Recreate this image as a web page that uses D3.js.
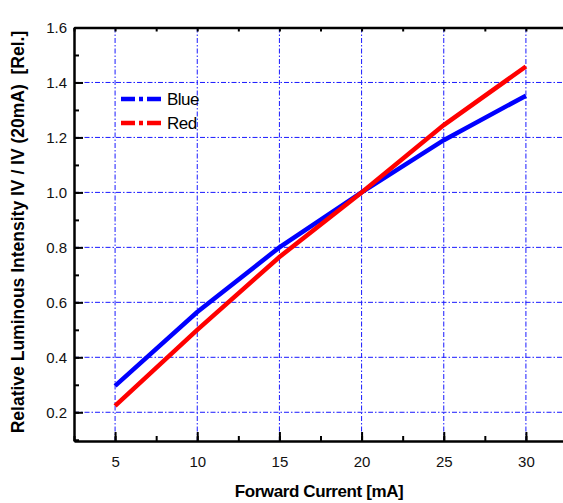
<!DOCTYPE html>
<meta charset="utf-8" />
<style>
  body { margin: 0; background: #fff; }
  text { font-family: 'Liberation Sans', Arial, sans-serif; }
  .grid line { stroke: #1a1aff; stroke-width: 1; stroke-dasharray: 5 2 1.5 2; }
</style>
<svg width="563" height="503"></svg>
<script src="https://d3js.org/d3.v7.min.js"></script>
<script>
  var current = [5, 10, 15, 20, 25, 30];
  var blue = [0.296, 0.565, 0.80, 1.0, 1.19, 1.352];
  var red = [0.223, 0.50, 0.765, 1.0, 1.245, 1.458];
  var xTicks = [5, 10, 15, 20, 25, 30];
  var yTicks = [0.2, 0.4, 0.6, 0.8, 1.0, 1.2, 1.4, 1.6];

  var svg = d3.select('svg'),
    plotLeft = 74, plotRight = 567, plotTop = 27.5, plotBottom = 441;

  var x = d3.scaleLinear().domain([2.5, 32.5]).range([plotLeft, plotRight]),
    y = d3.scaleLinear().domain([0.0955, 1.6]).range([plotBottom, plotTop]);

  // grid
  var grid = svg.append('g').attr('class', 'grid');
  grid.selectAll('.gx')
    .data(xTicks)
    .enter()
    .append('line')
    .attr('x1', d => x(d)).attr('x2', d => x(d))
    .attr('y1', plotTop).attr('y2', plotBottom);
  grid.selectAll('.gy')
    .data(yTicks.slice(0, -1))
    .enter()
    .append('line')
    .attr('y1', d => y(d)).attr('y2', d => y(d))
    .attr('x1', plotLeft).attr('x2', plotRight);

  // axes (ticks inside)
  var minorX = d3.range(2.5, 33, 2.5);
  var minorY = d3.range(0.1, 1.65, 0.1);
  svg.append('g')
    .attr('transform', 'translate(0,' + plotBottom + ')')
    .call(d3.axisBottom(x).tickValues(minorX).tickSize(-5).tickFormat('').tickSizeOuter(0))
    .call(g => g.selectAll('line').attr('stroke-width', 2));
  svg.append('g')
    .attr('transform', 'translate(0,' + plotBottom + ')')
    .call(d3.axisBottom(x).tickValues(xTicks).tickSize(-9).tickPadding(15).tickSizeOuter(0))
    .call(g => g.select('.domain').attr('stroke-width', 2.5))
    .call(g => g.selectAll('line').attr('stroke-width', 2))
    .call(g => g.selectAll('text').attr('font-size', 15).attr('fill', '#111'));
  svg.append('g')
    .attr('transform', 'translate(0,' + plotTop + ')')
    .call(d3.axisTop(x).tickValues(minorX).tickSize(-4).tickFormat('').tickSizeOuter(0))
    .call(g => g.select('.domain').attr('stroke-width', 2.5))
    .call(g => g.selectAll('line').attr('stroke-width', 2));
  svg.append('g')
    .attr('transform', 'translate(' + plotLeft + ',0)')
    .call(d3.axisLeft(y).tickValues(minorY).tickSize(-5).tickFormat('').tickSizeOuter(0))
    .call(g => g.selectAll('line').attr('stroke-width', 2));
  svg.append('g')
    .attr('transform', 'translate(' + plotLeft + ',0)')
    .call(d3.axisLeft(y).tickValues(yTicks).tickSize(-9).tickPadding(7).tickFormat(d3.format('.1f')).tickSizeOuter(0))
    .call(g => g.select('.domain').attr('stroke-width', 2.5))
    .call(g => g.selectAll('line').attr('stroke-width', 2))
    .call(g => g.selectAll('text').attr('font-size', 15).attr('fill', '#111'));

  // lines
  var line = d3.line()
    .x((d, i) => x(current[i]))
    .y(d => y(d));
  svg.append('path').datum(blue)
    .attr('d', line).attr('fill', 'none')
    .attr('stroke', '#0000ff').attr('stroke-width', 4.5);
  svg.append('path').datum(red)
    .attr('d', line).attr('fill', 'none')
    .attr('stroke', '#ff0000').attr('stroke-width', 4.5);

  // legend
  var legend = [['Blue', '#0000ff', 99], ['Red', '#ff0000', 123]];
  legend.forEach(function (l) {
    var g = svg.append('g');
    g.append('line')
      .attr('x1', 121).attr('x2', 163)
      .attr('y1', l[2]).attr('y2', l[2])
      .attr('stroke', l[1]).attr('stroke-width', 4.5)
      .attr('stroke-dasharray', '14 4 4 4 14');
    g.append('text')
      .attr('x', 167).attr('y', l[2] + 6)
      .attr('font-size', 17)
      .attr('letter-spacing', -0.5)
      .text(l[0]);
  });

  // titles
  svg.append('text')
    .attr('x', 319).attr('y', 497)
    .attr('text-anchor', 'middle')
    .attr('font-size', 17).attr('font-weight', 'bold')
    .attr('letter-spacing', -0.4)
    .text('Forward Current [mA]');
  svg.append('text')
    .attr('transform', 'translate(24,232) rotate(-90)')
    .attr('text-anchor', 'middle')
    .attr('font-size', 17.5).attr('font-weight', 'bold')
    .attr('xml:space', 'preserve')
    .text('Relative Luminous Intensity IV / IV (20mA)  [Rel.]');
</script>
